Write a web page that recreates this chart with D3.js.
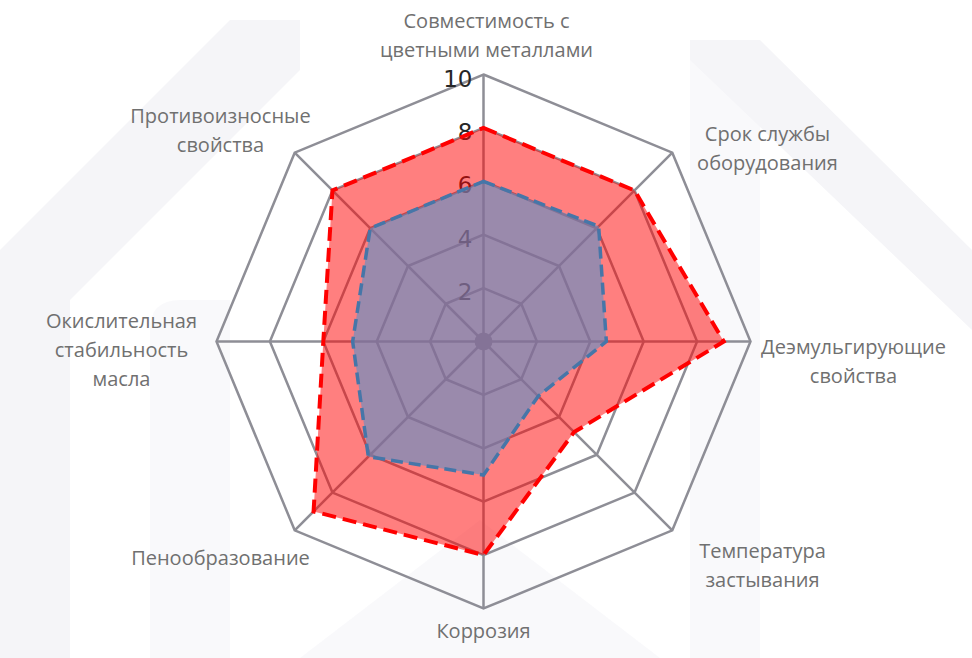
<!DOCTYPE html>
<html>
<head>
<meta charset="utf-8">
<script src="https://cdn.jsdelivr.net/npm/d3@7"></script>
<style>
  body { margin: 0; background: #fff; }
  svg { display: block; }
</style>
</head>
<body>
<div id="chart-area"></div>
<script>
// радар: характеристики масла
const CATEGORIES = [
	"Совместимость с|цветными металлами",
	"Срок службы|оборудования",
	"Деэмульгирующие|свойства",
	"Температура|застывания",
	"Коррозия",
	"Пенообразование",
	"Окислительная|стабильность|масла",
	"Противоизносные|свойства"
]
const RED_VALUES = [8, 8, 9, 4.8, 8, 9, 6, 8]
const BLUE_VALUES = [6, 6.1, 4.6, 2.9, 5, 6.1, 4.9, 6]
const TICKS = [2, 4, 6, 8, 10]

const WIDTH = 972
const HEIGHT = 658
const CX = 483.5
const CY = 341.5
const RADIUS = 267

const svg = d3.select("#chart-area").append("svg")
	.attr("width", WIDTH)
	.attr("height", HEIGHT)

// faint watermark in the background
const bg = svg.append("g").attr("fill", "#f5f5f8")
bg.append("path").attr("d", "M0,250 L230,20 L300,20 L300,70 L70,300 L70,658 L0,658 Z")
bg.append("path").attr("d", "M690,40 L760,40 L972,250 L972,330 L690,60 Z")
bg.append("path").attr("d", "M690,40 L760,40 L760,658 L690,658 Z").attr("opacity", 0.6)
bg.append("path").attr("d", "M150,658 L150,330 Q150,300 180,300 L230,300 L230,658 Z").attr("opacity", 0.6)
bg.append("path").attr("d", "M300,658 L480,520 L660,658 Z").attr("opacity", 0.6)

const g = svg.append("g")
	.attr("transform", `translate(${CX}, ${CY})`)

const r = d3.scaleLinear()
	.domain([0, 10])
	.range([0, RADIUS])

const angle = d3.scalePoint()
	.domain(d3.range(CATEGORIES.length + 1))
	.range([0, 2 * Math.PI])

const px = (i, v) => r(v) * Math.sin(angle(i))
const py = (i, v) => -r(v) * Math.cos(angle(i))

const idx = d3.range(CATEGORIES.length)

// grid rings
TICKS.forEach(t => {
	g.append("path")
		.attr("d", d3.line()(idx.map(i => [px(i, t), py(i, t)])) + "Z")
		.attr("fill", "none")
		.attr("stroke", "#8e8e96")
		.attr("stroke-width", 2.5)
})

// spokes
g.selectAll(".spoke")
	.data(idx)
	.enter().append("line")
	.attr("class", "spoke")
	.attr("x1", 0).attr("y1", 0)
	.attr("x2", i => px(i, 10))
	.attr("y2", i => py(i, 10))
	.attr("stroke", "#8e8e96")
	.attr("stroke-width", 2.5)

// radial tick labels
g.selectAll(".tick-label")
	.data(TICKS)
	.enter().append("text")
	.attr("class", "tick-label")
	.attr("x", -11)
	.attr("y", t => -r(t) + 12)
	.attr("text-anchor", "end")
	.attr("font-family", "DejaVu Sans")
	.attr("font-size", "23px")
	.attr("fill", "#262626")
	.text(t => t)

g.append("circle")
	.attr("r", 9)
	.attr("fill", "#8e8e96")

const radarLine = d3.lineRadial()
	.angle((d, i) => angle(i))
	.radius(d => r(d))
	.curve(d3.curveLinearClosed)

// red series
g.append("path")
	.datum(RED_VALUES)
	.attr("d", radarLine)
	.attr("fill", "#ff0000")
	.attr("fill-opacity", 0.5)
	.attr("stroke", "none")

// blue series
g.append("path")
	.datum(BLUE_VALUES)
	.attr("d", radarLine)
	.attr("fill", "#5791c9")
	.attr("fill-opacity", 0.6)
	.attr("stroke", "none")

g.append("path")
	.datum(RED_VALUES)
	.attr("d", radarLine)
	.attr("fill", "none")
	.attr("stroke", "#ff0000")
	.attr("stroke-width", 4)
	.attr("stroke-dasharray", "14,7")

g.append("path")
	.datum(BLUE_VALUES)
	.attr("d", radarLine)
	.attr("fill", "none")
	.attr("stroke", "#4676a8")
	.attr("stroke-width", 3.5)
	.attr("stroke-dasharray", "12,6")

// category labels: offsets from the chart centre (layout only)
const LABEL_POS = [[3, -314], [284, -201], [370, 12], [279, 216], [0, 296], [-263, 223], [-362, -14], [-263, -219]]

const labels = g.selectAll(".cat-label")
	.data(CATEGORIES)
	.enter().append("text")
	.attr("class", "cat-label")
	.attr("transform", (d, i) => `translate(${LABEL_POS[i][0]}, ${LABEL_POS[i][1]})`)
	.attr("text-anchor", "middle")
	.attr("font-family", "Open Sans")
	.attr("font-size", "20px")
	.attr("fill", "#707070")

labels.each(function(d) {
	const lines = d.split("|")
	d3.select(this).selectAll("tspan")
		.data(lines)
		.enter().append("tspan")
		.attr("x", 0)
		.attr("dy", (l, j) => j === 0 ? 0 : 29)
		.text(l => l)
})
</script>
</body>
</html>
